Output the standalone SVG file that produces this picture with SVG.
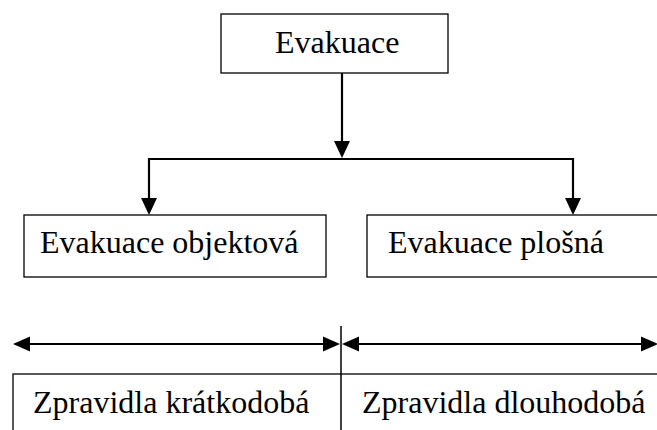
<svg xmlns="http://www.w3.org/2000/svg" width="657" height="430" viewBox="0 0 657 430">
<defs>
<style>
.box{fill:#fff;stroke:#000;stroke-width:1.3}
.con{fill:none;stroke:#000;stroke-width:2.2}
.ah{fill:#000}
</style>
</defs>
<rect width="657" height="430" fill="#fff"/>
<g id="connectors">
<line class="con" x1="342" y1="73" x2="342" y2="142"/>
<polygon class="ah" points="334,141 350,141 342,158"/>
<polyline class="con" points="149,200 149,159 573,159 573,200"/>
<polygon class="ah" points="141,198 157,198 149,215"/>
<polygon class="ah" points="565,198 581,198 573,215"/>
<line class="con" x1="28" y1="344" x2="325" y2="344"/>
<polygon class="ah" points="13,344 30,336.5 30,351.5"/>
<polygon class="ah" points="340,344 323,336.5 323,351.5"/>
<line class="con" x1="356" y1="344" x2="645" y2="344"/>
<polygon class="ah" points="342,344 359,336.5 359,351.5"/>
<polygon class="ah" points="658,344 641,336.5 641,351.5"/>
<line stroke="#000" stroke-width="1.5" x1="341" y1="326" x2="341" y2="430"/>
</g>
<g id="n-evakuace" font-family="Liberation Serif, Times New Roman, serif" font-size="32">
<rect class="box" x="221" y="14" width="227" height="59"/>
<text x="275" y="53">Evakuace</text>
</g>
<g id="n-objektova" font-family="Liberation Serif, Times New Roman, serif" font-size="32">
<rect class="box" x="24" y="215" width="302" height="62"/>
<text x="40" y="253">Evakuace objektová</text>
</g>
<g id="n-plosna" font-family="Liberation Serif, Times New Roman, serif" font-size="32">
<rect class="box" x="367" y="215" width="310" height="62"/>
<text x="388" y="253">Evakuace plošná</text>
</g>
<g id="n-spodni" font-family="Liberation Serif, Times New Roman, serif" font-size="32">
<rect class="box" x="13" y="374" width="670" height="80"/>
<line stroke="#000" stroke-width="1.5" x1="341" y1="374" x2="341" y2="430"/>
<text x="33" y="413">Zpravidla krátkodobá</text>
<text x="362" y="413">Zpravidla dlouhodobá</text>
</g>
</svg>
